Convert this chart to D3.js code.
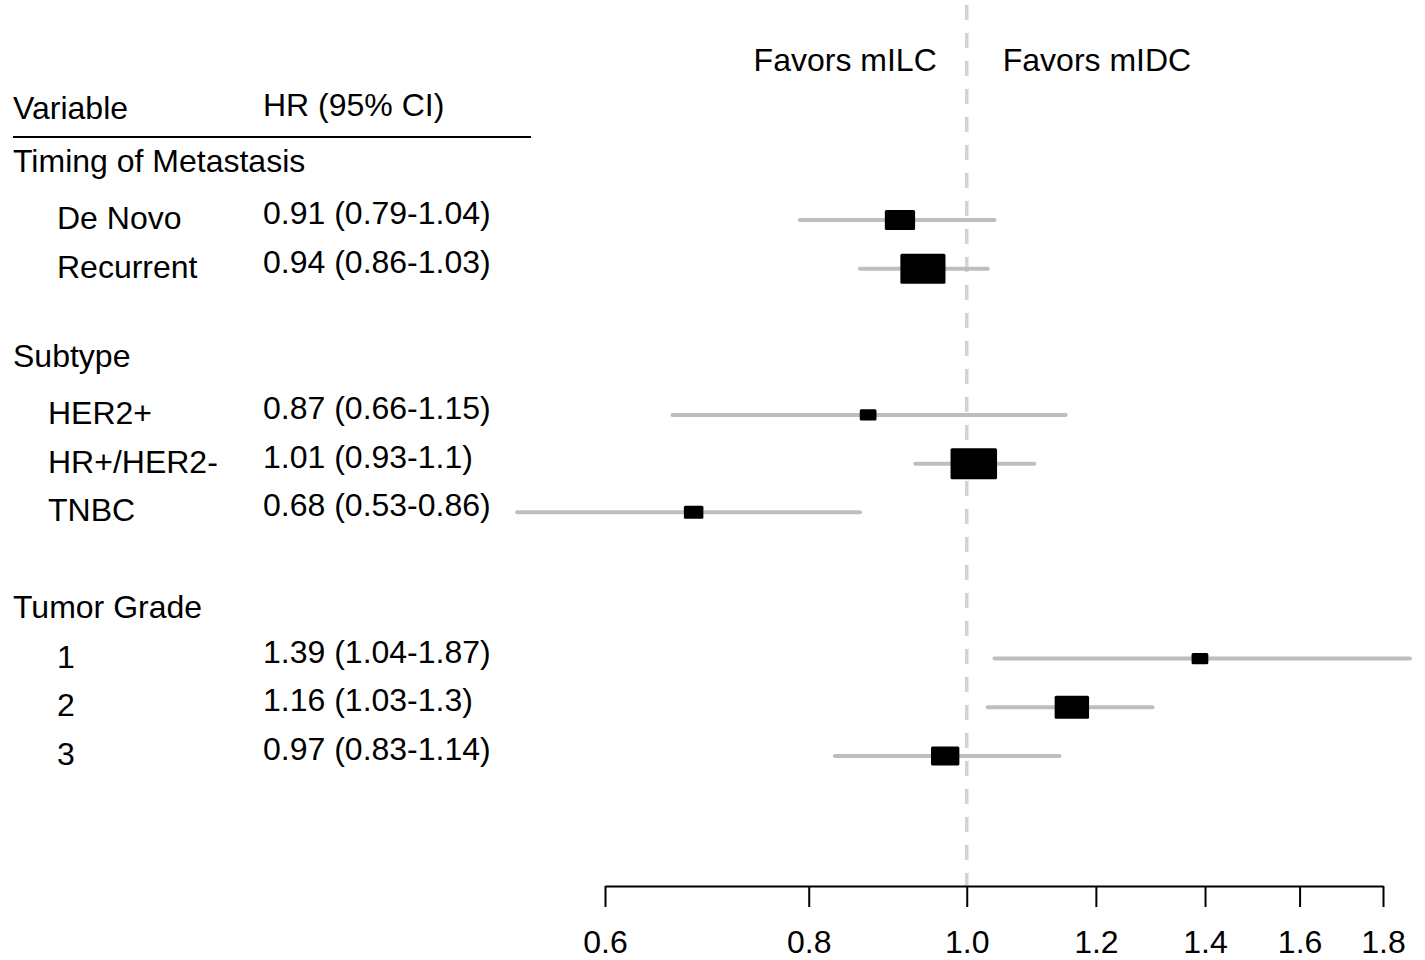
<!DOCTYPE html>
<html><head><meta charset="utf-8">
<script src="https://cdn.jsdelivr.net/npm/d3@7"></script>
<style>
html,body{margin:0;padding:0;background:#fff;}
svg text{font-family:"Liberation Sans",Arial,Helvetica,sans-serif;fill:#000;}
</style></head>
<body>
<svg id="chart" width="1425" height="960"></svg>
<script>
// ---- data ----
const groups = ["Timing of Metastasis", "Subtype", "Tumor Grade"];
const groupRows = [0, 4, 9];
const labels = ["De Novo", "Recurrent", "HER2+", "HR+/HER2-", "TNBC", "1", "2", "3"];
const labelGroup = [0, 0, 1, 1, 1, 2, 2, 2];
const rows = [1, 2, 5, 6, 7, 10, 11, 12];
const hr = [0.91, 0.94, 0.87, 1.01, 0.68, 1.39, 1.16, 0.97];
const lower = [0.79, 0.86, 0.66, 0.93, 0.53, 1.04, 1.03, 0.83];
const upper = [1.04, 1.03, 1.15, 1.10, 0.86, 1.87, 1.30, 1.14];
const hrText = ["0.91 (0.79-1.04)", "0.94 (0.86-1.03)", "0.87 (0.66-1.15)", "1.01 (0.93-1.1)",
                "0.68 (0.53-0.86)", "1.39 (1.04-1.87)", "1.16 (1.03-1.3)", "0.97 (0.83-1.14)"];
const boxWeight = [0.65, 0.97, 0.36, 1.0, 0.42, 0.36, 0.74, 0.61];
const tickValues = [0.6, 0.8, 1.0, 1.2, 1.4, 1.6, 1.8];
const tickLabels = ["0.6", "0.8", "1.0", "1.2", "1.4", "1.6", "1.8"];
const headers = ["Variable", "HR (95% CI)"];
const favors = ["Favors mILC", "Favors mIDC"];

// ---- layout ----
const svg = d3.select("#chart");
const FS = 32;
const x = d3.scaleLog().domain([0.6, 1.8]).range([605, 1383]);
const y = d3.scaleLinear().domain([1, 12]).range([220, 756]);
const boxH = d3.scaleLinear().domain([0, 1]).range([0, 31]);
const indent = [57, 48, 57];
const axisY = 886;

// reference dashed line
svg.append("line")
  .attr("x1", x(1)).attr("x2", x(1))
  .attr("y1", 5).attr("y2", axisY)
  .attr("stroke", "#d3d3d3").attr("stroke-width", 3.5)
  .attr("stroke-dasharray", "15,13");

// favors labels
svg.append("text").attr("x", x(1) - 30).attr("y", 71).attr("text-anchor", "end")
  .attr("font-size", FS).text(favors[0]);
svg.append("text").attr("x", x(1) + 36).attr("y", 71).attr("text-anchor", "start")
  .attr("font-size", FS).text(favors[1]);

// column headers
svg.append("text").attr("x", 13).attr("y", 119).attr("font-size", FS).text(headers[0]);
svg.append("text").attr("x", 263).attr("y", 116).attr("font-size", FS).text(headers[1]);
svg.append("line").attr("x1", 13).attr("x2", 531).attr("y1", 137).attr("y2", 137)
  .attr("stroke", "#000").attr("stroke-width", 2);

// group headers
svg.selectAll("text.group").data(groups).join("text")
  .attr("class", "group")
  .attr("x", 13)
  .attr("y", (d, i) => y(groupRows[i]) + 1 + (i === 2 ? 7 : 0))
  .attr("font-size", FS)
  .text(d => d);

// row labels
svg.selectAll("text.lab").data(labels).join("text")
  .attr("class", "lab")
  .attr("x", (d, i) => indent[labelGroup[i]])
  .attr("y", (d, i) => y(rows[i]) + 9)
  .attr("font-size", FS)
  .text(d => d);

svg.selectAll("text.hr").data(hrText).join("text")
  .attr("class", "hr")
  .attr("x", 263)
  .attr("y", (d, i) => y(rows[i]) + 4)
  .attr("font-size", FS)
  .text(d => d);

// CI lines
svg.selectAll("line.ci").data(hr).join("line")
  .attr("class", "ci")
  .attr("x1", (d, i) => x(lower[i]))
  .attr("x2", (d, i) => x(upper[i]))
  .attr("y1", (d, i) => y(rows[i]))
  .attr("y2", (d, i) => y(rows[i]))
  .attr("stroke", "#bebebe").attr("stroke-width", 4).attr("stroke-linecap", "round");

// boxes
svg.selectAll("rect.box").data(hr).join("rect")
  .attr("class", "box")
  .attr("x", (d, i) => x(d) - boxH(boxWeight[i]) * 0.75)
  .attr("y", (d, i) => y(rows[i]) - boxH(boxWeight[i]) / 2)
  .attr("width", (d, i) => boxH(boxWeight[i]) * 1.5)
  .attr("height", (d, i) => boxH(boxWeight[i]))
  .attr("rx", 1.5)
  .attr("fill", "#000");

// x axis
const axis = d3.axisBottom(x).tickValues(tickValues)
  .tickFormat((d, i) => tickLabels[i]).tickSize(21).tickPadding(23).tickSizeOuter(0);
const gAx = svg.append("g").attr("transform", `translate(0,${axisY})`).call(axis);
gAx.select(".domain").attr("stroke", "#000").attr("stroke-width", 2);
gAx.selectAll(".tick line").attr("stroke", "#000").attr("stroke-width", 2);
gAx.selectAll(".tick text").attr("font-size", FS)
  .attr("font-family", "Liberation Sans, Arial, sans-serif").attr("fill", "#000");
</script>
</body></html>
